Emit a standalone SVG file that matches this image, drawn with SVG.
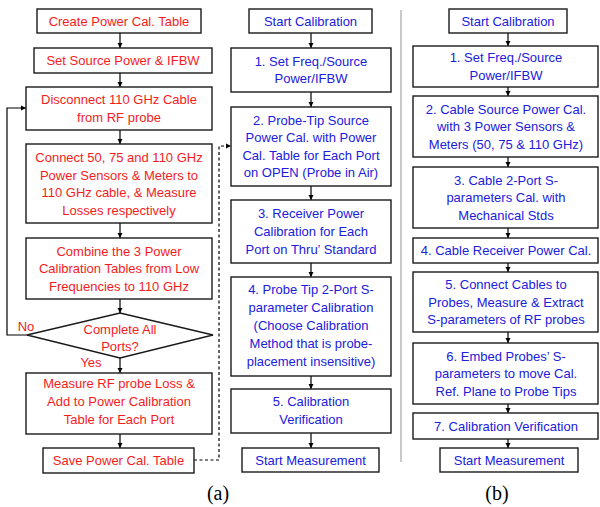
<svg xmlns="http://www.w3.org/2000/svg" width="600" height="507" viewBox="0 0 600 507">
<defs>
<marker id="ah" markerWidth="6" markerHeight="6" refX="5" refY="3" orient="auto" markerUnits="userSpaceOnUse">
<path d="M0,0.5 L5,3 L0,5.5 Z" fill="#000"/>
</marker>
<style>
.b{fill:#fff;stroke:#1a1a1a;stroke-width:1.4}
.r{fill:#f41c1c;font-family:"Liberation Sans",Arial,sans-serif;font-size:13px;text-anchor:middle}
.u{fill:#2020dc;font-family:"Liberation Sans",Arial,sans-serif;font-size:13px;text-anchor:middle}
.c{fill:none;stroke:#000;stroke-width:1.2;marker-end:url(#ah)}
.d{fill:none;stroke:#000;stroke-width:1.2;stroke-dasharray:3,2.5;marker-end:url(#ah)}
.lbl{fill:#000;font-family:"Liberation Serif","Times New Roman",serif;font-size:20px;text-anchor:middle}
</style>
</defs>
<rect width="600" height="507" fill="#fff"/>
<line x1="401" y1="10" x2="401" y2="462" stroke="#c8c8c8" stroke-width="2"/>

<g id="connectors">
<path class="c" d="M120,33 V48"/>
<path class="c" d="M120,73 V87"/>
<path class="c" d="M120,130 V144"/>
<path class="c" d="M120,223 V238"/>
<path class="c" d="M120,299 V313"/>
<path class="c" d="M120,358 V373"/>
<path class="c" d="M120,434 V448"/>
<path class="c" d="M27,335 H7 V108 H26"/>
<path class="d" d="M194,460 H219 V146 H231"/>
<path class="c" d="M311,33 V48"/>
<path class="c" d="M311,92 V107"/>
<path class="c" d="M311,186 V200"/>
<path class="c" d="M311,263 V277"/>
<path class="c" d="M311,376 V389"/>
<path class="c" d="M311,433 V448"/>
<path class="c" d="M508,33 V46"/>
<path class="c" d="M508,87 V96"/>
<path class="c" d="M508,157 V167"/>
<path class="c" d="M508,228 V238"/>
<path class="c" d="M508,263 V272"/>
<path class="c" d="M508,332 V343"/>
<path class="c" d="M508,404 V413"/>
<path class="c" d="M508,439 V448"/>
</g>

<g id="a_create"><rect class="b" x="37" y="9" width="164" height="24"/><text class="r" x="119" y="25.5">Create Power Cal. Table</text></g>
<g id="a_setsource"><rect class="b" x="34" y="48" width="178" height="25"/><text class="r" x="123" y="65">Set Source Power &amp; IFBW</text></g>
<g id="a_disconnect"><rect class="b" x="26" y="87" width="186" height="43"/><text class="r" x="119" y="104">Disconnect 110 GHz Cable</text><text class="r" x="119" y="121.5">from RF probe</text></g>
<g id="a_connect"><rect class="b" x="26" y="144" width="186" height="79"/><text class="r" x="119" y="162">Connect 50, 75 and 110 GHz</text><text class="r" x="119" y="179.5">Power Sensors &amp; Meters to</text><text class="r" x="119" y="197">110 GHz cable, &amp; Measure</text><text class="r" x="119" y="214.5">Losses respectively</text></g>
<g id="a_combine"><rect class="b" x="26" y="238" width="186" height="61"/><text class="r" x="119" y="255.5">Combine the 3 Power</text><text class="r" x="119" y="273">Calibration Tables from Low</text><text class="r" x="119" y="290.5">Frequencies to 110 GHz</text></g>
<g id="a_decision"><polygon class="b" points="120,313 213,335 120,358 27,335"/><text class="r" x="120" y="334">Complete All</text><text class="r" x="120" y="351">Ports?</text><text class="r" x="26" y="331">No</text><text class="r" x="91" y="367">Yes</text></g>
<g id="a_measure"><rect class="b" x="26" y="373" width="186" height="61"/><text class="r" x="119" y="388">Measure RF probe Loss &amp;</text><text class="r" x="119" y="406">Add to Power Calibration</text><text class="r" x="119" y="424">Table for Each Port</text></g>
<g id="a_save"><rect class="b" x="43" y="448" width="151" height="25"/><text class="r" x="118.5" y="465">Save Power Cal. Table</text></g>

<g id="m_start"><rect class="b" x="249" y="9" width="123" height="24"/><text class="u" x="310.5" y="25.5">Start Calibration</text></g>
<g id="m_1"><rect class="b" x="231" y="48" width="160" height="44"/><text class="u" x="311" y="65.5">1. Set Freq./Source</text><text class="u" x="311" y="83">Power/IFBW</text></g>
<g id="m_2"><rect class="b" x="231" y="107" width="160" height="79"/><text class="u" x="311" y="124.5">2. Probe-Tip Source</text><text class="u" x="311" y="142">Power Cal. with Power</text><text class="u" x="311" y="159.5">Cal. Table for Each Port</text><text class="u" x="311" y="177">on OPEN (Probe in Air)</text></g>
<g id="m_3"><rect class="b" x="231" y="200" width="160" height="63"/><text class="u" x="311" y="218">3. Receiver Power</text><text class="u" x="311" y="236">Calibration for Each</text><text class="u" x="311" y="254">Port on Thru’ Standard</text></g>
<g id="m_4"><rect class="b" x="231" y="277" width="160" height="99"/><text class="u" x="311" y="293.5">4. Probe Tip 2-Port S-</text><text class="u" x="311" y="311.5">parameter Calibration</text><text class="u" x="311" y="329.5">(Choose Calibration</text><text class="u" x="311" y="347.5">Method that is probe-</text><text class="u" x="311" y="365.5">placement insensitive)</text></g>
<g id="m_5"><rect class="b" x="231" y="389" width="160" height="44"/><text class="u" x="311" y="406">5. Calibration</text><text class="u" x="311" y="424">Verification</text></g>
<g id="m_end"><rect class="b" x="242" y="448" width="137" height="24"/><text class="u" x="310.5" y="465">Start Measurement</text></g>

<g id="b_start"><rect class="b" x="449" y="9" width="118" height="24"/><text class="u" x="508" y="25.5">Start Calibration</text></g>
<g id="b_1"><rect class="b" x="413" y="46" width="185" height="41"/><text class="u" x="506" y="61.5">1. Set Freq./Source</text><text class="u" x="506" y="79.5">Power/IFBW</text></g>
<g id="b_2"><rect class="b" x="413" y="96" width="185" height="61"/><text class="u" x="506" y="113.5">2. Cable Source Power Cal.</text><text class="u" x="506" y="131">with 3 Power Sensors &amp;</text><text class="u" x="506" y="148.5">Meters (50, 75 &amp; 110 GHz)</text></g>
<g id="b_3"><rect class="b" x="413" y="167" width="185" height="61"/><text class="u" x="506" y="184.5">3. Cable 2-Port S-</text><text class="u" x="506" y="202">parameters Cal. with</text><text class="u" x="506" y="219.5">Mechanical Stds</text></g>
<g id="b_4"><rect class="b" x="413" y="238" width="185" height="25"/><text class="u" x="506" y="255">4. Cable Receiver Power Cal.</text></g>
<g id="b_5"><rect class="b" x="413" y="272" width="185" height="60"/><text class="u" x="506" y="289">5. Connect Cables to</text><text class="u" x="506" y="306.5">Probes, Measure &amp; Extract</text><text class="u" x="506" y="324">S-parameters of RF probes</text></g>
<g id="b_6"><rect class="b" x="413" y="343" width="185" height="61"/><text class="u" x="506" y="360.5">6. Embed Probes’ S-</text><text class="u" x="506" y="378">parameters to move Cal.</text><text class="u" x="506" y="395.5">Ref. Plane to Probe Tips</text></g>
<g id="b_7"><rect class="b" x="413" y="413" width="185" height="26"/><text class="u" x="506" y="430.5">7. Calibration Verification</text></g>
<g id="b_end"><rect class="b" x="440" y="448" width="138" height="24"/><text class="u" x="509" y="465">Start Measurement</text></g>

<text class="lbl" x="218" y="500">(a)</text>
<text class="lbl" x="497" y="500">(b)</text>
</svg>
